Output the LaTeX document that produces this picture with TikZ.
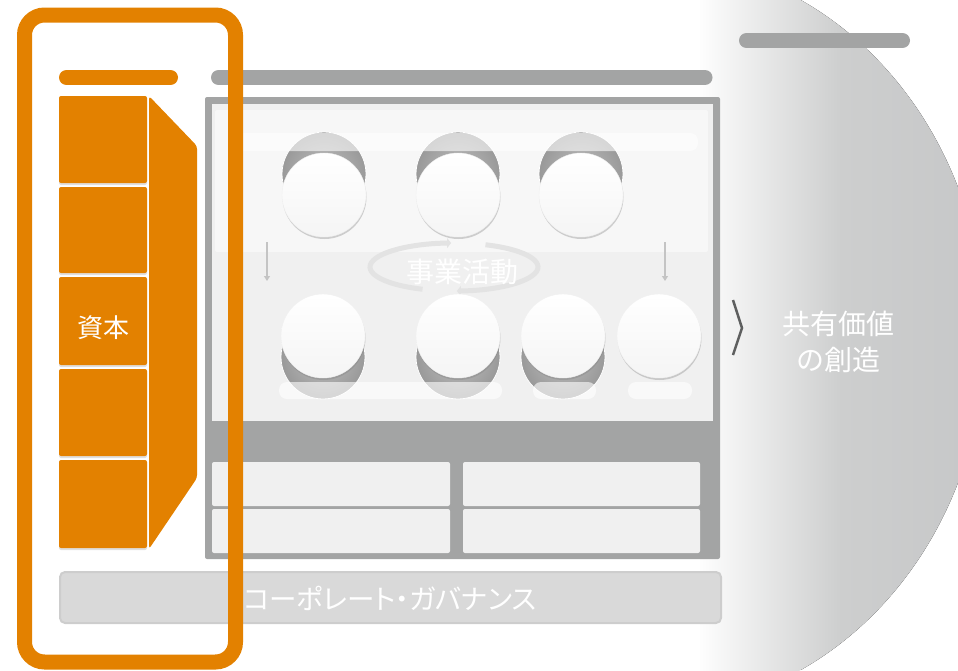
\documentclass[tikz,border=0pt]{standalone}
\usepackage{fontspec}
\setmainfont{Noto Sans CJK JP}
\newfontfamily\jpprop[RawFeature=+palt]{Noto Sans CJK JP}
\usepackage{xcolor}
\usepackage{tikz}
\usetikzlibrary{arrows.meta, positioning, shadows}

\definecolor{capOrange}{HTML}{E38100}
\definecolor{frameGray}{HTML}{A3A4A4}
\definecolor{panelLight}{HTML}{F0F0F0}
\definecolor{panelLighter}{HTML}{F7F7F7}
\definecolor{govGray}{HTML}{D9D9D9}
\definecolor{govEdge}{HTML}{CDCDCD}
\definecolor{valueGray}{HTML}{C6C7C8}
\definecolor{valueMid}{HTML}{DBDCDC}
\definecolor{valueEdge}{HTML}{CDCECE}
\definecolor{ringGray}{HTML}{E3E3E3}
\definecolor{arrowGray}{HTML}{C4C4C4}
\definecolor{chevGray}{HTML}{5E5F5F}

\pgfdeclareradialshading{holeshade}{\pgfpoint{0bp}{0bp}}{color(0bp)=(black!25); color(25bp)=(black!40); color(38bp)=(black!58); color(50bp)=(black!78)}

\begin{document}
\begin{tikzpicture}[
    x=1pt, y=-1pt,
    pill/.style={line width=15pt, line cap=round},
    capblock/.style={fill=capOrange, rounded corners=2pt, drop shadow={opacity=0.25, shadow xshift=0pt, shadow yshift=-2pt}},
    lowpanel/.style={fill=panelLight, rounded corners=2pt},
    holenode/.style={circle, minimum size=84pt, inner sep=0pt, shading=holeshade, draw=white, line width=0.8pt},
    discnode/.style={circle, minimum size=84pt, inner sep=0pt, top color=white, bottom color=gray!8, draw=gray!12,
        drop shadow={opacity=0.35, shadow xshift=0.5pt, shadow yshift=-2pt}},
    veil/.style={fill=white, opacity=0.6, rounded corners=8pt},
    flow/.style={-{Triangle[length=5pt, width=6pt]}, line width=1.5pt, arrowGray},
    ringarc/.style={line width=5pt, ringGray, -{Triangle[length=4pt, width=10pt]}},
    jplabel/.style={text=white, inner sep=0pt, align=center},
]
\useasboundingbox (0,0) rectangle (958,670);

% ======== SHARED VALUE (right) ========
\begin{scope}
  \clip (700,0) rectangle (958,670);
  \clip (650,335) ellipse [x radius=335, y radius=375];
  \fill[left color=white, middle color=valueMid, right color=valueEdge] (695,0) rectangle (841,670);
  \fill[left color=valueEdge, right color=valueGray] (840,0) rectangle (985,670);
\end{scope}
\draw[pill, frameGray] (746.5,40.5) -- (902.5,40.5);

% ======== HEADINGS ========
\draw[pill, capOrange] (66.5,77.5) -- (170.5,77.5);
\draw[pill, frameGray] (218.5,77.5) -- (705,77.5);

% ======== BUSINESS BOX ========
\fill[frameGray, rounded corners=2pt] (205,97) rectangle (720,559);
\fill[panelLight] (212,104) rectangle (713,421);
\fill[panelLighter, rounded corners=2pt] (215,110) rectangle (708,252);

% top row
\node[holenode] (topAh) at (324,174) {};
\node[holenode] (topBh) at (458,174) {};
\node[holenode] (topCh) at (581,174) {};
\fill[veil] (232,133) rectangle (698,151);
\node[discnode] (topA) at (324,195) {};
\node[discnode] (topB) at (458,195) {};
\node[discnode] (topC) at (581,195) {};

% arrows down
\coordinate (leftS) at (267,242);
\coordinate (leftE) at (267,281);
\coordinate (rightS) at (665,242);
\coordinate (rightE) at (665,281);
\draw[flow] (leftS) -- (leftE);
\draw[flow] (rightS) -- (rightE);

% cycle round the label
\coordinate (ringC) at (454,267);
\draw[ringarc] (ringC) ++(112:84 and 24) arc[start angle=112, end angle=268, x radius=84, y radius=24];
\draw[ringarc] (ringC) ++(292:84 and 24) arc[start angle=292, end angle=448, x radius=84, y radius=24];
\node[jplabel, font=\fontsize{28}{32}\selectfont] (bizText) at (462,272) {事業活動};

% bottom row
\node[holenode] (botAh) at (323,357) {};
\node[holenode] (botBh) at (458,357) {};
\node[holenode] (botCh) at (563,357) {};
\node[discnode] (botA) at (323,336) {};
\node[discnode] (botB) at (458,336) {};
\node[discnode] (botC) at (563,336) {};
\node[discnode] (botD) at (659,336) {};
\fill[veil] (279,382) rectangle (502,399);
\fill[veil] (533,382) rectangle (596,399);
\fill[veil] (628,382) rectangle (692,399);

% lower panels
\fill[lowpanel] (212,462) rectangle (450,506);
\fill[lowpanel] (463,462) rectangle (700,506);
\fill[lowpanel] (212,509) rectangle (450,553);
\fill[lowpanel] (463,509) rectangle (700,553);

% ======== GOVERNANCE ========
\fill[govGray, draw=govEdge, line width=2pt, rounded corners=5pt] (60,572) rectangle (721,623);
\node[jplabel, font=\jpprop\fontsize{27.5}{32}\selectfont] (govText) at (390,598) {コーポレート・ガバナンス};

% ======== OUTPUT ========
\draw[chevGray, line width=2.5pt] (733,300) -- (742,328) -- (733,355);
\node[jplabel, font=\fontsize{28}{36}\selectfont] (valueText) at (838,342) {共有価値\\の創造};

% ======== CAPITAL (left) ========
\fill[capblock] (59,96) rectangle (147,183);
\fill[capblock] (59,187) rectangle (147,273);
\fill[capblock] (59,277) rectangle (147,365);
\fill[capblock] (59,369) rectangle (147,456);
\fill[capblock] (59,460) rectangle (147,548);
\fill[capOrange, rounded corners=3pt] (149,96) -- (197,146) -- (197,478) -- (149,549) -- cycle;
\node[jplabel, font=\fontsize{26}{30}\selectfont] (capText) at (103,328) {資本};

% highlight frame
\draw[capOrange, line width=15pt, rounded corners=20pt] (24.5,15) rectangle (235.5,662);

\end{tikzpicture}
\end{document}
